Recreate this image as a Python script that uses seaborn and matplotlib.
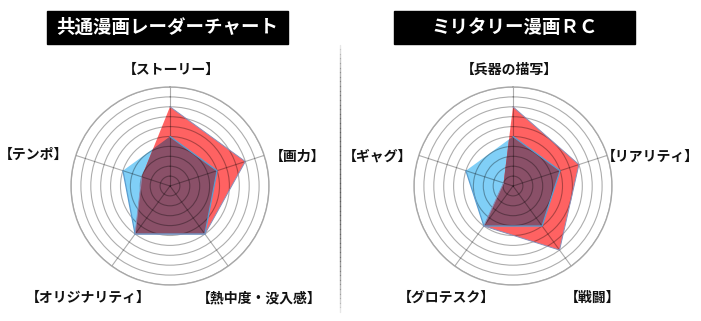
import numpy as np
import matplotlib
matplotlib.use('Agg')
import matplotlib.pyplot as plt
import seaborn as sns
from matplotlib.patches import Rectangle
from matplotlib.lines import Line2D

# data (scale 0-10)
left_title = '共通漫画レーダーチャート'
left_axes = ['【ストーリー】', '【画力】', '【熱中度・没入感】', '【オリジナリティ】', '【テンポ】']
left_red = [8, 8, 6, 6, 3]
left_blue = [5, 5, 6, 6, 5]

right_title = 'ミリタリー漫画ＲＣ'
right_axes = ['【兵器の描写】', '【リアリティ】', '【戦闘】', '【グロテスク】', '【ギャグ】']
right_red = [8, 7, 8, 5, 1]
right_blue = [5, 5, 5, 5, 5]

W, H = 701, 321
red_col = '#ff6262'
blue_col = '#80cff7'
mix_col = '#8a5068'

sns.set_theme(style='white')
plt.rcParams['font.family'] = ['Noto Sans CJK JP', 'DejaVu Sans']


def px(x, y):
    """pixel -> figure fraction"""
    return x / W, 1 - y / H


def radar(fig, cx, cy, labels, red, blue, label_pos):
    rad = 99
    x0, y0 = px(cx - rad, cy + rad)
    ax = fig.add_axes([x0, y0, 2 * rad / W, 2 * rad / H], projection='polar')
    n = len(labels)
    theta = np.linspace(0, 2 * np.pi, n, endpoint=False)
    th = np.append(theta, theta[0])
    r_red = np.append(red, red[0])
    r_blue = np.append(blue, blue[0])

    ax.set_theta_offset(np.pi / 2)
    ax.set_theta_direction(-1)
    ax.set_ylim(0, 10)
    ax.set_yticks(np.arange(1, 11))
    ax.set_yticklabels([])
    ax.set_xticks(theta)
    ax.set_xticklabels([])
    ax.set_axisbelow('line')
    ax.grid(True, color='black', alpha=0.32, linewidth=0.8)
    ax.spines['polar'].set_color('#a8a8a8')
    ax.spines['polar'].set_linewidth(1.0)
    ax.set_facecolor('white')

    bfill = ax.fill(th, r_blue, color=blue_col, zorder=1, linewidth=0)
    ax.fill(th, r_red, color=red_col, zorder=1, linewidth=0)
    over = ax.fill(th, r_red, color=mix_col, zorder=1.1, linewidth=0)
    over[0].set_clip_path(bfill[0])

    sns.lineplot(x=th, y=r_blue, sort=False, ax=ax, color='#5a9ccf', linewidth=0.9, zorder=3)
    sns.lineplot(x=th, y=r_red, sort=False, ax=ax, color='#8a8fb8', linewidth=0.7, zorder=3)
    ax.set_xlabel('')
    ax.set_ylabel('')

    for lab, (lx, ly) in zip(labels, label_pos):
        fx, fy = px(lx, ly)
        fig.text(fx, fy, lab, ha='center', va='center', fontsize=10, fontweight='bold', color='#111111')
    return ax


def title_box(fig, x1, x2, y1, y2, text):
    fx, fy = px(x1, y2)
    fig.patches.append(Rectangle((fx, fy), (x2 - x1) / W, (y2 - y1) / H,
                                 transform=fig.transFigure, color='black', zorder=0))
    tx, ty = px((x1 + x2) / 2, (y1 + y2) / 2)
    fig.text(tx, ty, text, ha='center', va='center', color='white', fontsize=13.3, fontweight='bold')


fig = plt.figure(figsize=(W / 100, H / 100), dpi=100)
fig.patch.set_facecolor('white')

radar(fig, 170, 186, left_axes, left_red, left_blue,
      [(171, 70), (298, 157), (259, 298), (88, 298), (34, 155)])
radar(fig, 513, 186, right_axes, right_red, right_blue,
      [(509, 70), (650, 157), (593, 298), (446, 298), (378, 157)])

title_box(fig, 47, 288, 11, 44, left_title)
title_box(fig, 394, 635, 11, 44, right_title)

# separator line with faded ends
ys = np.linspace(40, 312, 60)
for i in range(len(ys) - 1):
    t = (ys[i] - 40) / (312 - 40)
    a = np.sin(np.pi * t) ** 0.6
    fa, fb = px(340, ys[i]), px(340, ys[i + 1])
    fig.add_artist(Line2D([fa[0], fb[0]], [fa[1], fb[1]], transform=fig.transFigure,
                          color='#555555', alpha=0.8 * a, linewidth=1.0))

fig.savefig('out.png', dpi=100)
